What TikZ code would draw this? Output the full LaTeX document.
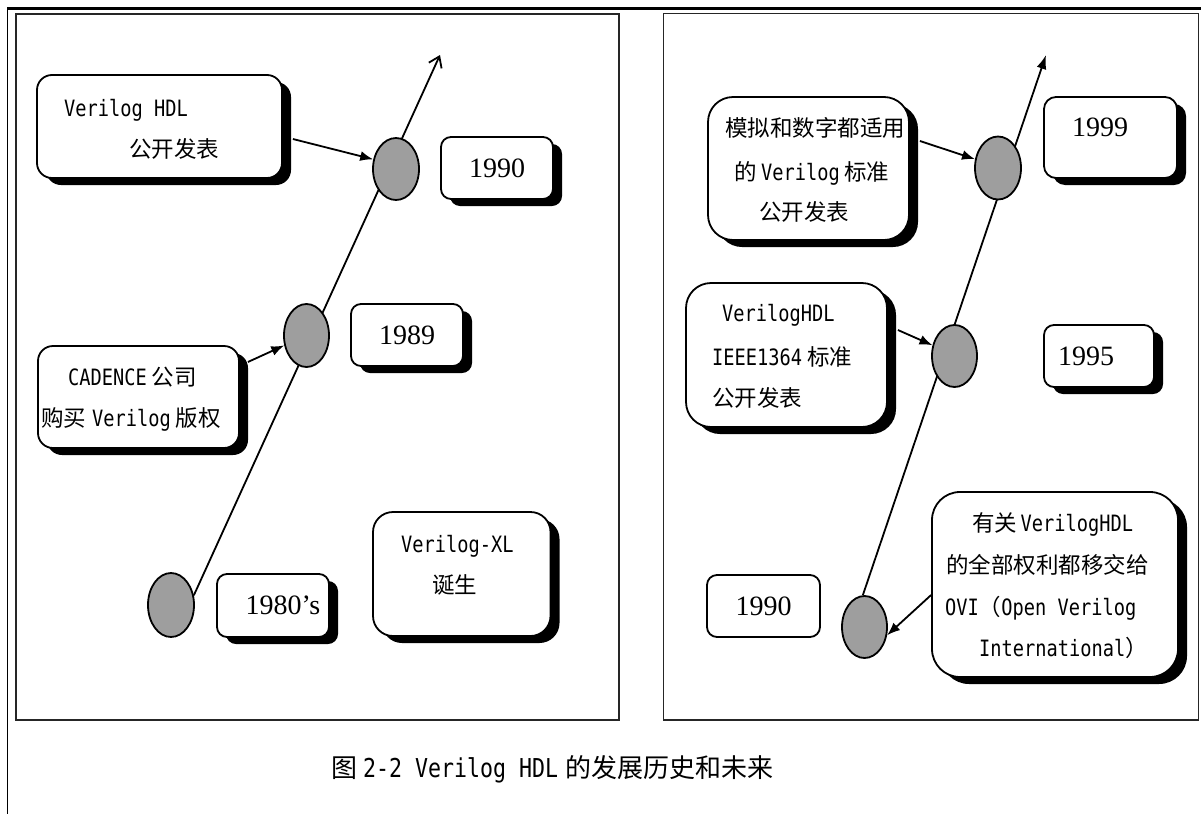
\documentclass[tikz,border=0pt]{standalone}
\usepackage{fontspec}
\newfontfamily\cjk{Noto Sans CJK SC}
\newfontfamily\lat{DejaVu Sans Mono}[FakeStretch=0.83]
\newfontfamily\tnr{Liberation Serif}
\usetikzlibrary{shapes.geometric,shadows,arrows.meta,backgrounds}
\definecolor{dotgray}{RGB}{158,158,158}
\begin{document}
\begin{tikzpicture}[x=1pt,y=-1pt,
  box/.style={draw=black, line width=1.8pt, fill=white, rounded corners=#1, inner sep=0pt,
    drop shadow={shadow xshift=9pt, shadow yshift=-7pt, fill=black, opacity=1},
    font=\tnr\fontsize{28}{32}\selectfont},
  box/.default=14pt,
  flatbox/.style={draw=black, line width=1.8pt, fill=white, rounded corners=10pt, inner sep=0pt,
    font=\tnr\fontsize{28}{32}\selectfont},
  dot/.style={ellipse, draw=black, line width=1.8pt, fill=dotgray, inner sep=0pt},
  txt/.style={inner sep=0pt, anchor=base west, font=\cjk\fontsize{22.5}{27}\selectfont},
  link/.style={line width=1.8pt, -{Latex[length=13pt,width=10pt]}},
  tl/.style={line width=1.8pt},
  panel/.style={draw=black!85, line width=1.2pt},
  frame/.style={draw=black}
]
\useasboundingbox (0,0) rectangle (1201,814);

% outer frame and panels
\draw[frame, line width=2.7pt] (1201,8.6) -- (6.5,8.6);
\draw[frame, line width=1.8pt] (7.5,8) -- (7.5,814);
\draw[panel] (16,14) rectangle (619,720);
\draw[panel] (663.5,13.5) rectangle (1198.5,720);

% ---------- left panel ----------
\node[box=15pt, minimum width=245pt, minimum height=103pt] (bA) at (159.5,126.5) {};
\node[box=15pt, minimum width=201pt, minimum height=102pt] (bB) at (138.5,397) {};
\node[box=10pt, minimum width=112pt, minimum height=62pt] (b1989) at (407,335) {1989};
\node[box=10pt, minimum width=112pt, minimum height=62pt] (b1990L) at (497,168) {1990};
\node[box=10pt, minimum width=112pt, minimum height=63pt] (b1980) at (273,605.5) {\hspace*{20pt}1980’s};
\node[box=20pt, minimum width=177.5pt, minimum height=124pt] (bXL) at (461.75,574) {};

\node[dot, minimum width=46pt, minimum height=64pt] (e0) at (171,605) {};
\node[dot, minimum width=45pt, minimum height=63pt] (e89) at (306.5,335.5) {};
\node[dot, minimum width=46pt, minimum height=62pt] (e90) at (396,169) {};

\node[txt] (tA1) at (64,116.5) {\lat Verilog HDL};
\node[txt] (tA2) at (129,157.5) {公开发表};
\node[txt] (tB1) at (68,385.5) {{\lat CADENCE}\hspace{5pt}公司};
\node[txt] (tB2) at (41,426.5) {购买\hspace{6pt}{\lat Verilog}\hspace{5pt}版权};
\node[txt] (tXL1) at (401,552.5) {\lat Verilog-XL};
\node[txt] (tXL2) at (432,593.5) {诞生};

\coordinate (tipL) at (440,55);
\begin{scope}[on background layer]
\draw[tl, -{Straight Barb[length=10pt,width=14pt]}] (e0.23) -- (tipL);
\end{scope}
\draw[link] ([shift={(10,12.5)}]bA.east) -- (e90.157);
\draw[link] ([shift={(8,-35)}]bB.east) -- (e89.204);

% ---------- right panel ----------
\node[box=25pt, minimum width=201pt, minimum height=143pt] (bC) at (808.5,168.5) {};
\node[box=25pt, minimum width=201pt, minimum height=144pt] (bD) at (786.5,355) {};
\node[box=28pt, minimum width=246pt, minimum height=185pt] (bE) at (1055,584.5) {};
\node[box=12pt, minimum width=133pt, minimum height=81pt] (b1999) at (1110.5,137.5) {\raisebox{21pt}{1999}\hspace*{21pt}};
\node[box=10pt, minimum width=110pt, minimum height=62pt] (b1995) at (1099,356) {1995\hspace*{26pt}};
\node[flatbox, minimum width=113pt, minimum height=62pt] (b1990R) at (763.5,606) {1990};

\node[dot, minimum width=46pt, minimum height=63pt] (e99) at (998,168) {};
\node[dot, minimum width=45pt, minimum height=62pt] (e95) at (954.5,356) {};
\node[dot, minimum width=45pt, minimum height=62pt] (eR0) at (864.5,627) {};

\node[txt] (tC1) at (725,136.5) {模拟和数字都适用};
\node[txt] (tC2) at (734,180.5) {的\hspace{4.5pt}{\lat Verilog}\hspace{4.5pt}标准};
\node[txt] (tC3) at (759,220.5) {公开发表};
\node[txt] (tD1) at (722,321.5) {\lat VerilogHDL};
\node[txt] (tD2) at (712,365.5) {{\lat IEEE1364}\hspace{5pt}标准};
\node[txt] (tD3) at (712,406.5) {公开发表};
\node[txt] (tE1) at (972,531.5) {有关\hspace{3.5pt}{\lat VerilogHDL}};
\node[txt] (tE2) at (946,573.5) {的全部权利都移交给};
\node[txt] (tE3) at (945,615.5) {{\lat OVI}（{\lat Open Verilog}};
\node[txt] (tE4) at (979,656.5) {{\lat International}）};

\coordinate (tipR) at (1046,55);
\begin{scope}[on background layer]
\draw[tl, -{Latex[length=14pt,width=10pt]}] (eR0.93) -- (tipR);
\end{scope}
\draw[link] ([shift={(10,-27.5)}]bC.east) -- (e99.159);
\draw[link] ([shift={(10,-25)}]bD.east) -- (e95.154);
\draw[link] ([shift={(0,10.5)}]bE.west) -- (eR0.340);

% caption
\node[inner sep=0pt, anchor=base west, font=\cjk\fontsize{26}{30}\selectfont] (cap) at (331,777.9)
  {图\hspace{6pt}{\lat 2-2 Verilog HDL}\hspace{7pt}的发展历史和未来};
\end{tikzpicture}
\end{document}
